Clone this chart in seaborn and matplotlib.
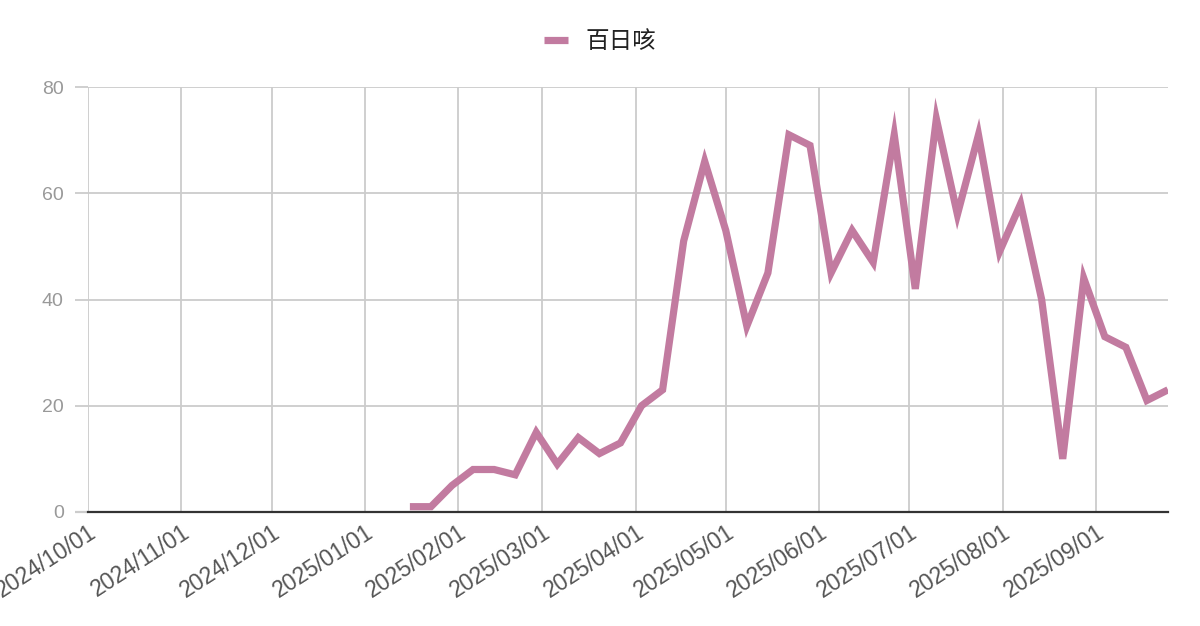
import pandas as pd
import matplotlib
matplotlib.use("Agg")
import matplotlib.pyplot as plt
import matplotlib.dates as mdates
import seaborn as sns

# weekly counts
series_name = "百日咳"
start_date = "2025-01-16"
counts = [1, 1, 5, 8, 8, 7, 15, 9, 14, 11,
          13, 20, 23, 51, 66, 53, 35, 45, 71, 69,
          45, 53, 47, 71, 42, 74, 56, 71, 49, 58,
          40, 10, 44, 33, 31, 21, 23]
month_ticks = pd.date_range("2024-10-01", "2025-09-01", freq="MS")
y_ticks = [0, 20, 40, 60, 80]

df = pd.DataFrame({
    "date": pd.date_range(start_date, periods=len(counts), freq="7D"),
    "count": counts,
    "name": series_name,
})

sns.set_theme(style="whitegrid")
plt.rcParams["font.family"] = ["Liberation Sans", "Noto Sans CJK SC", "DejaVu Sans"]

fig = plt.figure(figsize=(12, 6.26), dpi=100)
ax = fig.add_axes([88 / 1200, 1 - 512 / 626, 1080 / 1200, 425 / 626])

sns.lineplot(data=df, x="date", y="count", hue="name", palette=["#c27ba0"],
             linewidth=5.2, ax=ax, legend=True)
for ln in ax.lines:
    ln.set_solid_joinstyle("miter")
    ln.set_solid_capstyle("butt")

ax.set_xlim(pd.Timestamp("2024-10-01"), df["date"].iloc[-1])
ax.set_ylim(0, 80)
ax.set_yticks(y_ticks)
ax.set_xticks(month_ticks)
ax.xaxis.set_major_formatter(mdates.DateFormatter("%Y/%m/%d"))

ax.grid(True, color="#cccccc", linewidth=1.3)
for s in ["left", "right", "top"]:
    ax.spines[s].set_visible(False)
ax.spines["bottom"].set_color("#333333")
ax.spines["bottom"].set_linewidth(1.6)
ax.spines["bottom"].set_zorder(5)

# short grey stubs to the left of the y gridlines
ax.tick_params(axis="y", labelcolor="#999999", labelsize=14, length=9.5,
               width=1.3, color="#cccccc", pad=8, left=True)
ax.yaxis.get_major_ticks()[0].tick1line.set_color("#333333")
ax.yaxis.get_major_ticks()[0].tick1line.set_markeredgewidth(1.6)
ax.tick_params(axis="x", labelcolor="#555555", labelsize=16.5, length=0, pad=6)
for lab in ax.get_xticklabels():
    lab.set_rotation(33)
    lab.set_ha("right")
    lab.set_rotation_mode("anchor")

ax.set_xlabel("")
ax.set_ylabel("")

handles, labels = ax.get_legend_handles_labels()
ax.get_legend().remove()
leg = fig.legend(handles, labels, loc="center", bbox_to_anchor=(0.5, 1 - 42 / 626),
                 frameon=False, fontsize=17, handlelength=1.0, handletextpad=0.75)
for t in leg.get_texts():
    t.set_color("#222222")
for h in leg.get_lines():
    h.set_linewidth(5.2)

fig.savefig("out.png", dpi=100)
